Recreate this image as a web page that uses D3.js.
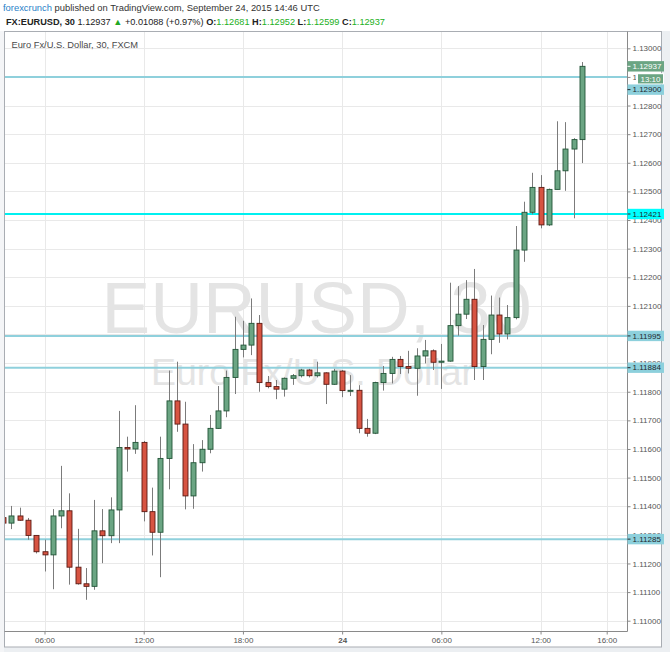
<!DOCTYPE html>
<html><head><meta charset="utf-8">
<script src="https://cdn.jsdelivr.net/npm/d3@7"></script>
<style>body{margin:0;background:#fff}svg{display:block}</style>
</head><body><script>
// ---- data ----
const startTime = Date.UTC(2015, 8, 23, 3, 30);   // first bar open (UTC)
const barMinutes = 30;
const opens  = [1.11360,1.11341,1.11366,1.11351,1.11298,1.11241,1.11230,1.11366,1.11384,1.11187,
                1.11129,1.11120,1.11314,1.11297,1.11387,1.11605,1.11600,1.11623,1.11381,1.11309,
                1.11567,1.11768,1.11687,1.11436,1.11552,1.11599,1.11672,1.11733,1.11850,1.11948,
                1.11963,1.12039,1.11832,1.11818,1.11809,1.11847,1.11856,1.11876,1.11856,1.11866,
                1.11826,1.11872,1.11803,1.11805,1.11672,1.11655,1.11832,1.11864,1.11913,1.11888,
                1.11882,1.11925,1.11943,1.11903,1.11907,1.12031,1.12071,1.12123,1.11888,1.11983,
                1.12068,1.12002,1.12059,1.12295,1.12427,1.12514,1.12383,1.12507,1.12572,1.12648,
                1.12681];
const highs  = [1.11390,1.11401,1.11395,1.11359,1.11298,1.11283,1.11390,1.11541,1.11445,1.11321,
                1.11184,1.11422,1.11390,1.11431,1.11733,1.11643,1.11753,1.11628,1.11465,1.11643,
                1.11874,1.11905,1.11765,1.11617,1.11631,1.11719,1.11820,1.11874,1.12062,1.12048,
                1.12126,1.12068,1.11855,1.11841,1.11850,1.11862,1.11880,1.11880,1.11905,1.11868,
                1.11880,1.11876,1.11858,1.11823,1.11705,1.11835,1.11890,1.11922,1.11925,1.11943,
                1.11952,1.11981,1.11948,1.11967,1.12181,1.12169,1.12190,1.12229,1.12033,1.12136,
                1.12129,1.12103,1.12379,1.12464,1.12565,1.12557,1.12510,1.12745,1.12742,1.12686,
                1.12952];
const lows   = [1.11330,1.11320,1.11349,1.11283,1.11235,1.11172,1.11110,1.11323,1.11126,1.11126,
                1.11073,1.11108,1.11201,1.11271,1.11271,1.11521,1.11583,1.11347,1.11228,1.11152,
                1.11459,1.11660,1.11389,1.11391,1.11521,1.11585,1.11670,1.11711,1.11792,1.11920,
                1.11928,1.11800,1.11812,1.11774,1.11783,1.11824,1.11850,1.11850,1.11850,1.11757,
                1.11824,1.11781,1.11785,1.11655,1.11643,1.11652,1.11804,1.11829,1.11862,1.11864,
                1.11786,1.11899,1.11876,1.11810,1.11905,1.11996,1.12054,1.11841,1.11841,1.11931,
                1.11971,1.11983,1.12053,1.12254,1.12420,1.12371,1.12379,1.12507,1.12502,1.12406,
                1.12599];
const closes = [1.11341,1.11366,1.11351,1.11298,1.11241,1.11230,1.11366,1.11384,1.11187,1.11129,
                1.11120,1.11314,1.11297,1.11387,1.11605,1.11600,1.11623,1.11381,1.11309,1.11567,
                1.11768,1.11687,1.11436,1.11552,1.11599,1.11672,1.11733,1.11850,1.11948,1.11963,
                1.12039,1.11832,1.11818,1.11809,1.11847,1.11856,1.11876,1.11856,1.11866,1.11826,
                1.11872,1.11804,1.11805,1.11672,1.11655,1.11832,1.11864,1.11913,1.11888,1.11882,
                1.11925,1.11943,1.11903,1.11907,1.12031,1.12071,1.12123,1.11888,1.11983,1.12068,
                1.12002,1.12059,1.12295,1.12427,1.12514,1.12383,1.12507,1.12572,1.12648,1.12681,
                1.12937];
const priceTicks = [1.110,1.111,1.112,1.113,1.114,1.115,1.116,1.117,1.118,1.119,1.120,
                    1.121,1.122,1.123,1.124,1.125,1.126,1.127,1.128,1.129,1.130];
const timeTickValues = [Date.UTC(2015,8,23,6), Date.UTC(2015,8,23,12), Date.UTC(2015,8,23,18),
                        Date.UTC(2015,8,24,0), Date.UTC(2015,8,24,6), Date.UTC(2015,8,24,12),
                        Date.UTC(2015,8,24,16)];
const timeTickLabels = ["06:00","12:00","18:00","24","06:00","12:00","16:00"];
const levels = [1.12900, 1.12421, 1.11995, 1.11884, 1.11285];
const highlightLevel = 1.12421;
const lastPrice = 1.12937;
const countdown = "13:10";
const headerSource = "forexcrunch";
const headerRest = " published on TradingView.com, September 24, 2015 14:46 UTC";
const symbolTitle = "FX:EURUSD, 30";
const change = "+0.01088 (+0.97%)";
const ohlcLabels = ["O:", "H:", "L:", "C:"];
const ohlcValues = ["1.12681", "1.12952", "1.12599", "1.12937"];
const legendText = "Euro Fx/U.S. Dollar, 30, FXCM";
const watermark1 = "EURUSD, 30";
const watermark2 = "Euro Fx/U.S. Dollar";

// ---- layout ----
const W = 670, H = 652;
const P = {l: 4.5, r: 627.5, t: 31.5, b: 631.5};
const bars = opens.map((o, i) => ({t: new Date(startTime + i * barMinutes * 60000),
  o, h: highs[i], l: lows[i], c: closes[i]}));

const x = d3.scaleUtc().domain([timeTickValues[0], timeTickValues[6]]).range([44.5, 606.7]);
const y = d3.scaleLinear().domain([1.110, 1.130]).range([620.7, 48.3]);

const svg = d3.select("body").append("svg").attr("width", W).attr("height", H);
const FONT = "'Liberation Sans', Arial, sans-serif";

svg.append("rect").attr("width", W).attr("height", H).attr("fill", "#fff");
svg.append("rect").attr("x", 0).attr("y", 647).attr("width", W).attr("height", H - 647).attr("fill", "#eceff2");
svg.append("rect").attr("x", 662).attr("y", 31).attr("width", W - 662).attr("height", H - 31).attr("fill", "#eceff2");
svg.append("rect").attr("x", 0).attr("y", 31).attr("width", 4).attr("height", H - 31).attr("fill", "#f4f5f7");

// grid
const grid = svg.append("g");
grid.selectAll(".hg").data(priceTicks).join("line")
  .attr("x1", P.l).attr("x2", P.r)
  .attr("y1", d => Math.round(y(d)) + 0.5).attr("y2", d => Math.round(y(d)) + 0.5)
  .attr("stroke", "#e9e9e9").attr("stroke-width", 1);
grid.selectAll(".vg").data(timeTickValues).join("line")
  .attr("y1", P.t).attr("y2", P.b)
  .attr("x1", d => Math.round(x(d)) + 0.5).attr("x2", d => Math.round(x(d)) + 0.5)
  .attr("stroke", "#e9e9e9").attr("stroke-width", 1);

// watermark
svg.append("text").attr("x", 316.5).attr("y", 333).attr("text-anchor", "middle")
  .attr("font-family", FONT).attr("font-size", 73).attr("fill", "#e4e4e4").text(watermark1);
svg.append("text").attr("x", 312.5).attr("y", 385).attr("text-anchor", "middle")
  .attr("font-family", FONT).attr("font-size", 37.5).attr("fill", "#e4e4e4").text(watermark2);

// level lines
svg.selectAll(".lvl").data(levels).join("line")
  .attr("x1", P.l).attr("x2", P.r)
  .attr("y1", d => y(d)).attr("y2", d => y(d))
  .attr("stroke", d => d === highlightLevel ? "#00f0f0" : "#8fd0dc")
  .attr("stroke-width", 2);

// candles
svg.append("clipPath").attr("id", "clip").append("rect")
  .attr("x", P.l).attr("y", P.t).attr("width", P.r - P.l).attr("height", P.b - P.t);
const cg = svg.append("g").attr("clip-path", "url(#clip)");
const cx = d => Math.round(x(d.t)) + 0.5;
cg.selectAll(".wick").data(bars).join("line")
  .attr("x1", cx).attr("x2", cx)
  .attr("y1", d => y(d.h)).attr("y2", d => y(d.l))
  .attr("stroke", "#7b7b7b").attr("stroke-width", 1);
cg.selectAll(".body").data(bars).join("rect")
  .attr("x", d => cx(d) - 2.5).attr("width", 5)
  .attr("y", d => y(Math.max(d.o, d.c)))
  .attr("height", d => Math.max(1, Math.abs(y(d.o) - y(d.c))))
  .attr("fill", d => d.c >= d.o ? "#6ba583" : "#d75442")
  .attr("stroke", d => d.c >= d.o ? "#225437" : "#5b1a13")
  .attr("stroke-width", 0.9);

// frame
svg.append("rect").attr("x", 4.5).attr("y", 31.5).attr("width", 657).attr("height", 615.5)
  .attr("fill", "none").attr("stroke", "#a9adb3");
svg.append("line").attr("x1", P.r).attr("x2", P.r).attr("y1", P.t).attr("y2", P.b).attr("stroke", "#8a8a8a");
svg.append("line").attr("x1", P.l).attr("x2", P.r).attr("y1", P.b).attr("y2", P.b).attr("stroke", "#8a8a8a");

// axes
const ya = svg.append("g").attr("transform", `translate(${P.r},0)`)
  .call(d3.axisRight(y).tickValues(priceTicks).tickFormat(d3.format(".5f")).tickSize(3).tickPadding(2));
ya.select(".domain").remove();
ya.selectAll("line").attr("stroke", "#8a8a8a");
ya.selectAll("text").attr("font-family", FONT).attr("font-size", 8).attr("fill", "#555");

const xa = svg.append("g").attr("transform", `translate(0,${P.b})`)
  .call(d3.axisBottom(x).tickValues(timeTickValues).tickFormat((d, i) => timeTickLabels[i]).tickSize(3).tickPadding(3));
xa.select(".domain").remove();
xa.selectAll("line").attr("stroke", "#8a8a8a");
xa.selectAll("text").attr("font-family", FONT).attr("font-size", 8).attr("fill", "#555")
  .attr("font-weight", (d, i) => timeTickLabels[i] === "24" ? "bold" : null);

// price-axis labels
const fmt = d3.format(".5f");
const lastY = y(lastPrice);
function axisLabel(cy, txt, bg, fg) {
  const g = svg.append("g");
  g.append("rect").attr("x", P.r).attr("y", cy - 5.2).attr("width", 36.5).attr("height", 10.4).attr("fill", bg);
  g.append("line").attr("x1", P.r).attr("x2", P.r + 3).attr("y1", cy).attr("y2", cy).attr("stroke", fg);
  g.append("text").attr("x", P.r + 5).attr("y", cy).attr("dy", "0.35em")
    .attr("font-family", FONT).attr("font-size", 8).attr("fill", fg).text(txt);
}
// countdown box
const cdY = lastY + 12.5;
svg.append("rect").attr("x", 636).attr("y", cdY - 5.7).attr("width", 28).attr("height", 11.4).attr("fill", "#fff");
svg.append("rect").attr("x", 638).attr("y", cdY - 4.6).attr("width", 25).attr("height", 9.2).attr("fill", "#6ba583");
svg.append("text").attr("x", 650.5).attr("y", cdY).attr("dy", "0.35em").attr("text-anchor", "middle")
  .attr("font-family", FONT).attr("font-size", 8).attr("fill", "#fff").text(countdown);

levels.forEach(v => {
  let cy = y(v);
  if (Math.abs(cy - cdY) < 10.5) cy = cdY + 10.8;
  axisLabel(cy, fmt(v), v === highlightLevel ? "#00ffff" : "#8dd0dc", "#1e2a30");
});
axisLabel(lastY, fmt(lastPrice), "#6ba583", "#fff");

// header
const h1 = svg.append("text").attr("x", 3).attr("y", 11).attr("font-family", FONT).attr("font-size", 9.4);
h1.append("tspan").attr("fill", "#2a7fc8").text(headerSource);
h1.append("tspan").attr("fill", "#333").text(headerRest);

const h2 = svg.append("text").attr("x", 6).attr("y", 25).attr("font-family", FONT).attr("font-size", 9.2).attr("fill", "#222");
h2.append("tspan").attr("font-weight", "bold").text(symbolTitle);
h2.append("tspan").text(" " + fmt(lastPrice) + " ");
h2.append("tspan").attr("fill", "#22a822").text("\u25B2");
h2.append("tspan").text(" " + change + " ");
ohlcLabels.forEach((l, i) => {
  h2.append("tspan").attr("font-weight", "bold").text(l);
  h2.append("tspan").attr("fill", "#22b022").text(ohlcValues[i] + (i < 3 ? " " : ""));
});

svg.append("text").attr("x", 11.5).attr("y", 47.5).attr("font-family", FONT).attr("font-size", 9.3)
  .attr("fill", "#4a4a4a").text(legendText);
</script></body></html>
